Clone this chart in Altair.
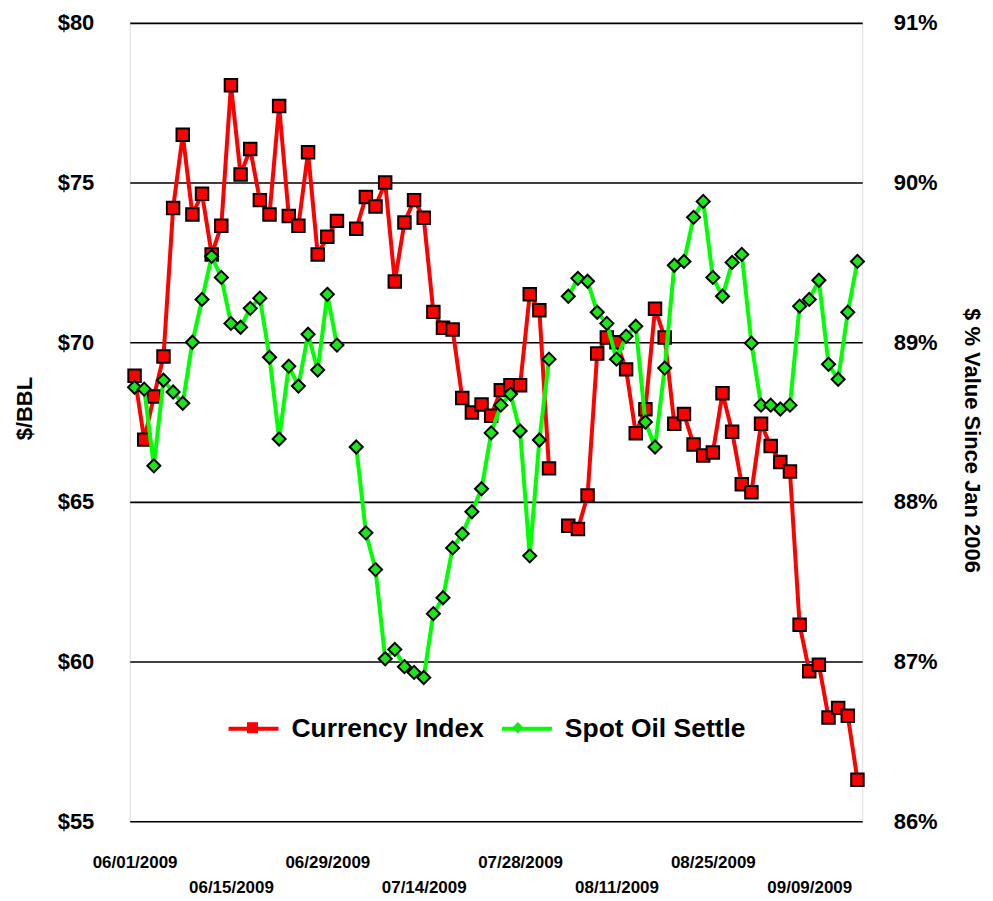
import altair as alt
import pandas as pd

# Trading days 06/01/2009 .. 09/16/2009 (NYSE holidays 07/03 and 09/07 excluded)
trade_days = pd.bdate_range("2009-06-01", "2009-09-16", freq="C",
                            holidays=["2009-07-03", "2009-09-07"])
dates = [d.strftime("%m/%d/%Y") for d in trade_days]
label_step = 10

series_names = ["Currency Index", "Spot Oil Settle"]
line_colors = ["#FF0000", "#00FF00"]
marker_fills = ["#FF0000", "#1AE61A"]

# Currency Index, $ % value since Jan 2006 (right axis)
currency = [88.79, 88.39, 88.66, 88.91, 89.84, 90.30, 89.80, 89.93, 89.55, 89.73,
            90.61, 90.05, 90.21, 89.89, 89.80, 90.48, 89.79, 89.73, 90.19, 89.55,
            89.66, 89.76, None,
            89.71, 89.91, 89.85, 90.00, 89.38, 89.75, 89.89, 89.78, 89.19, 89.09,
            89.08, 88.65, 88.56, 88.61, 88.54, 88.70, 88.73, 88.73, 89.30, 89.20,
            88.21, None,
            87.85, 87.83, 88.04, 88.93, 89.03, 89.00, 88.83, 88.43, 88.58, 89.21,
            89.03, 88.49, 88.55, 88.36, 88.29, 88.31, 88.68, 88.44, 88.11, 88.06,
            88.49, 88.35, 88.25, 88.19, 87.23, 86.94, 86.98, 86.65, 86.71, 86.66,
            86.26]

# Spot Oil Settle, $/BBL (left axis)
oil = [68.59, 68.53, 66.13, 68.81, 68.44, 68.09, 70.00, 71.34, 72.69, 72.03,
       70.59, 70.47, 71.06, 71.38, 69.53, 66.97, 69.25, 68.63, 70.25, 69.13,
       71.50, 69.91, None,
       66.72, 64.03, 62.88, 60.09, 60.38, 59.84, 59.66, 59.50, 61.50, 62.00,
       63.56, 64.00, 64.69, 65.41, 67.16, 68.03, 68.38, 67.22, 63.31, 66.94,
       69.47, None,
       71.44, 72.00, 71.91, 70.94, 70.59, 69.47, 70.19, 70.50, 67.50, 66.72,
       69.19, 72.41, 72.53, 73.91, 74.41, 72.03, 71.44, 72.50, 72.75, 69.97,
       68.03, 68.03, 67.91, 68.03, 71.13, 71.34, 71.94, 69.31, 68.84, 70.94,
       72.53]

oil_ticks = [55, 60, 65, 70, 75, 80]
pct_ticks = [86, 87, 88, 89, 90, 91]

square_path = "M-0.22,-0.22H0.22V0.22H-0.22Z"
diamond_path = "M0,-0.23L0.23,0L0,0.23L-0.23,0Z"


def frame(values, name):
    rows, seg = [], 0
    for i, v in enumerate(values):
        if v is None:
            seg += 1
            continue
        rows.append({"idx": i, "date": dates[i], "value": v, "seg": seg,
                     "line_series": name, "marker_series": name})
    return pd.DataFrame(rows)


df_cur = frame(currency, series_names[0])
df_oil = frame(oil, series_names[1])

FONT = "Liberation Sans"

tick_idx = list(range(0, len(dates), label_step))
lbl_arr = "[" + ",".join("'" + dates[i] + "'" for i in tick_idx) + "]"
k = f"round(datum.value/{label_step})"
x_label_expr = f"{k} % 2 == 1 ? ['', {lbl_arr}[{k}]] : {lbl_arr}[{k}]"

x_enc = alt.X(
    "idx:Q",
    scale=alt.Scale(domain=[-0.5, len(dates) - 0.5], nice=False, zero=False),
    axis=alt.Axis(values=tick_idx, labelExpr=x_label_expr, title=None,
                  ticks=False, domain=False, grid=False, labelFont=FONT,
                  labelFontSize=17, labelFontWeight="bold", labelColor="black",
                  labelPadding=33, labelBaseline="top", labelLineHeight=25,
                  labelOverlap=False, labelFlush=False, labelBound=False),
)

y_oil = alt.Y(
    "value:Q",
    scale=alt.Scale(domain=[55, 80], nice=False, zero=False),
    axis=alt.Axis(orient="left", values=oil_ticks, labelExpr="'$' + datum.value",
                  title="$/BBL", titleFont=FONT, titleFontSize=22,
                  titleFontWeight="bold", titleColor="black", titlePadding=21,
                  titleY=386,
                  labelFont=FONT, labelFontSize=22, labelFontWeight="bold",
                  labelColor="black", labelPadding=36, ticks=False, domain=False,
                  grid=True, gridColor="black", gridWidth=1.6, gridOpacity=1),
)

y_cur = alt.Y(
    "value:Q",
    scale=alt.Scale(domain=[86, 91], nice=False, zero=False),
    axis=alt.Axis(orient="right", values=pct_ticks, labelExpr="datum.value + '%'",
                  title="$ % Value Since Jan 2006", titleFont=FONT,
                  titleFontSize=22, titleFontWeight="bold", titleColor="black",
                  titlePadding=22, titleY=418,
                  labelFont=FONT, labelFontSize=22,
                  labelFontWeight="bold", labelColor="black", labelPadding=31,
                  ticks=False, domain=False, grid=False),
)

LEG_FS = 26.5
LEG_OFFSET = 11
LEG_GAP = 10
first_label_w = 7.28 * LEG_FS   # width of "Currency Index" in Arial-metric bold

legend_common = dict(orient="none", legendX=97, legendY=680, direction="horizontal",
                     title=None, symbolSize=2500, labelFont=FONT,
                     labelFontSize=LEG_FS, labelFontWeight="bold",
                     labelOffset=LEG_OFFSET, labelLimit=800, padding=0,
                     rowPadding=0, symbolOpacity=1)

line_legend = alt.Legend(symbolType="stroke", symbolStrokeWidth=4,
                         labelColor="black", columnPadding=LEG_GAP, **legend_common)
# marker-only legend stacked on the line legend (labels drawn by the line legend)
marker_legend = alt.Legend(symbolStrokeColor="black", symbolStrokeWidth=2,
                           labelExpr="''", labelColor="black",
                           columnPadding=LEG_GAP + first_label_w,
                           **legend_common)

color_enc = alt.Color("line_series:N",
                      scale=alt.Scale(domain=series_names, range=line_colors),
                      legend=line_legend)
fill_enc = alt.Fill("marker_series:N",
                    scale=alt.Scale(range=marker_fills),
                    legend=marker_legend)
shape_enc = alt.Shape("marker_series:N",
                      scale=alt.Scale(range=[square_path, diamond_path]),
                      legend=marker_legend)


def series_layer(df, y_enc):
    line = alt.Chart(df).mark_line(strokeWidth=4).encode(
        x=x_enc, y=y_enc, color=color_enc, detail="seg:N")
    pts = alt.Chart(df).mark_point(filled=True, size=3230, stroke="black",
                                   strokeWidth=2, opacity=1).encode(
        x=x_enc, y=y_enc, fill=fill_enc, shape=shape_enc)
    return alt.layer(line, pts)


chart = alt.layer(
    series_layer(df_cur, y_cur),
    series_layer(df_oil, y_oil),
).resolve_scale(y="independent").properties(
    width=734, height=800,
    padding={"left": 5, "top": 3, "right": 2, "bottom": 0},
).configure_view(stroke="black", strokeWidth=2).configure(background="white")

chart.save("out.html", embed_options={"renderer": "svg", "actions": False})
